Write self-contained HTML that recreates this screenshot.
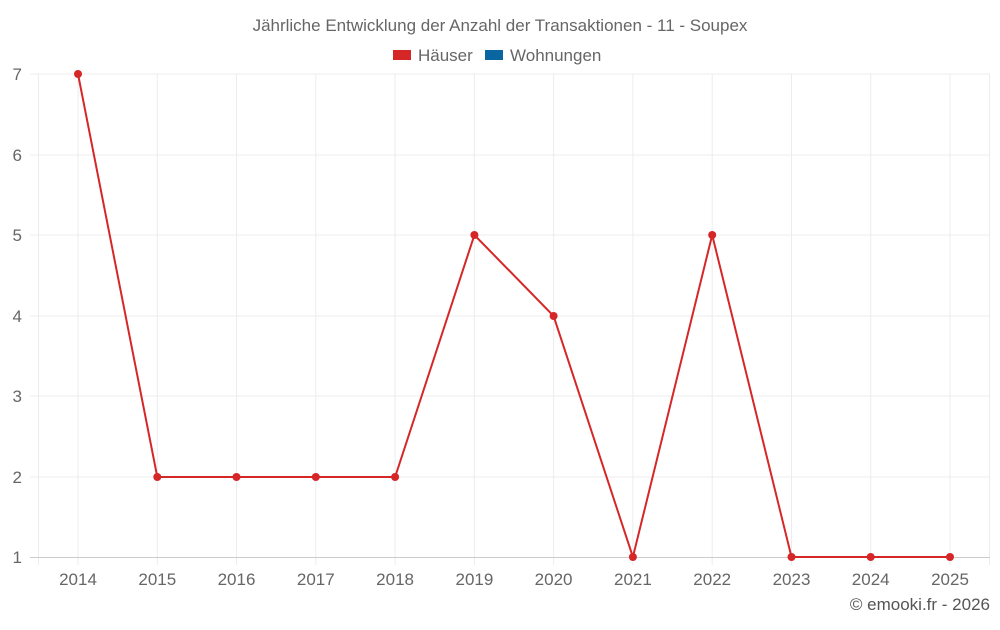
<!DOCTYPE html>
<html><head><meta charset="utf-8"><style>
body{margin:0;background:#fff;font-family:"Liberation Sans",sans-serif;}
</style></head><body>
<svg width="1000" height="625" xmlns="http://www.w3.org/2000/svg" font-family="Liberation Sans, sans-serif">
<text x="500" y="31" text-anchor="middle" font-size="17" fill="#666">Jährliche Entwicklung der Anzahl der Transaktionen - 11 - Soupex</text>
<rect x="393" y="50" width="18" height="10" fill="#d62728"/>
<text x="418" y="61" font-size="17" fill="#666">Häuser</text>
<rect x="485" y="50" width="18" height="10" fill="#0a66a0"/>
<text x="510" y="61" font-size="17" fill="#666">Wohnungen</text>
<g stroke="#ececec" stroke-width="1">
<line x1="30" y1="74" x2="990" y2="74"/><line x1="30" y1="155" x2="990" y2="155"/>
<line x1="30" y1="235" x2="990" y2="235"/><line x1="30" y1="316" x2="990" y2="316"/>
<line x1="30" y1="396" x2="990" y2="396"/><line x1="30" y1="477" x2="990" y2="477"/>
<line x1="38.5" y1="74" x2="38.5" y2="565"/>
<line x1="78" y1="74" x2="78" y2="565"/><line x1="157.3" y1="74" x2="157.3" y2="565"/>
<line x1="236.5" y1="74" x2="236.5" y2="565"/><line x1="315.8" y1="74" x2="315.8" y2="565"/>
<line x1="395.1" y1="74" x2="395.1" y2="565"/><line x1="474.4" y1="74" x2="474.4" y2="565"/>
<line x1="553.6" y1="74" x2="553.6" y2="565"/><line x1="632.9" y1="74" x2="632.9" y2="565"/>
<line x1="712.2" y1="74" x2="712.2" y2="565"/><line x1="791.5" y1="74" x2="791.5" y2="565"/>
<line x1="870.7" y1="74" x2="870.7" y2="565"/><line x1="950" y1="74" x2="950" y2="565"/>
<line x1="989.5" y1="74" x2="989.5" y2="565"/>
</g>
<line x1="30" y1="557.5" x2="990" y2="557.5" stroke="#ccc"/>
<g font-size="17" fill="#666" text-anchor="end">
<text x="22" y="80">7</text><text x="22" y="161">6</text><text x="22" y="241">5</text>
<text x="22" y="322">4</text><text x="22" y="402">3</text><text x="22" y="483">2</text><text x="22" y="563">1</text>
</g>
<g font-size="17" fill="#666" text-anchor="middle">
<text x="78" y="585">2014</text><text x="157.3" y="585">2015</text><text x="236.5" y="585">2016</text>
<text x="315.8" y="585">2017</text><text x="395.1" y="585">2018</text><text x="474.4" y="585">2019</text>
<text x="553.6" y="585">2020</text><text x="632.9" y="585">2021</text><text x="712.2" y="585">2022</text>
<text x="791.5" y="585">2023</text><text x="870.7" y="585">2024</text><text x="950" y="585">2025</text>
</g>
<polyline fill="none" stroke="#d62728" stroke-width="2" points="78,74 157.3,477 236.5,477 315.8,477 395.1,477 474.4,235 553.6,316 632.9,557 712.2,235 791.5,557 870.7,557 950,557"/>
<g fill="#d62728">
<circle cx="78" cy="74" r="4"/><circle cx="157.3" cy="477" r="4"/><circle cx="236.5" cy="477" r="4"/>
<circle cx="315.8" cy="477" r="4"/><circle cx="395.1" cy="477" r="4"/><circle cx="474.4" cy="235" r="4"/>
<circle cx="553.6" cy="316" r="4"/><circle cx="632.9" cy="557" r="4"/><circle cx="712.2" cy="235" r="4"/>
<circle cx="791.5" cy="557" r="4"/><circle cx="870.7" cy="557" r="4"/><circle cx="950" cy="557" r="4"/>
</g>
<text x="990" y="610" text-anchor="end" font-size="17" fill="#555">© emooki.fr - 2026</text>
</svg>
</body></html>
